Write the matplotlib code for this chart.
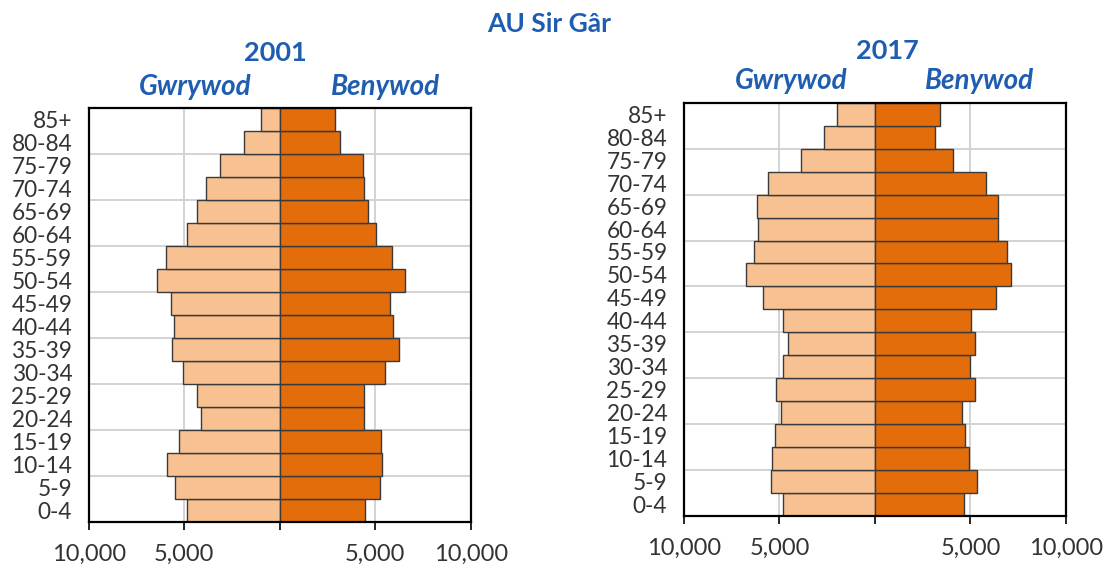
import matplotlib
matplotlib.use('Agg')
import matplotlib.pyplot as plt
from matplotlib.ticker import FuncFormatter, FixedLocator

plt.rcParams['font.family'] = ['Lato', 'DejaVu Sans']

# age groups, bottom to top
age_groups = ['0-4', '5-9', '10-14', '15-19', '20-24', '25-29', '30-34', '35-39',
              '40-44', '45-49', '50-54', '55-59', '60-64', '65-69', '70-74',
              '75-79', '80-84', '85+']

male_2001 = [4880, 5470, 5890, 5280, 4150, 4340, 5070, 5660, 5540, 5680,
             6410, 5940, 4880, 4340, 3870, 3140, 1860, 990]
female_2001 = [4490, 5230, 5350, 5300, 4420, 4420, 5490, 6240, 5940, 5770,
               6570, 5890, 5020, 4630, 4420, 4370, 3150, 2890]

# 2017
male_2017 = [4840, 5470, 5400, 5260, 4930, 5190, 4840, 4530, 4840, 5850,
             6740, 6320, 6130, 6200, 5590, 3850, 2660, 1980]
female_2017 = [4670, 5350, 4930, 4720, 4530, 5260, 5000, 5260, 5050, 6320,
               7120, 6930, 6460, 6460, 5800, 4060, 3130, 3390]

x_ticks = [-10000, -5000, 0, 5000, 10000]

BLUE = '#1F5DB0'
LIGHT = '#F8C191'
DARK = '#E36C0B'
EDGE = '#3A3A3A'


def draw_pyramid(ax, male, female):
    y = range(len(age_groups))
    ax.barh(y, [-m for m in male], height=1.0, color=LIGHT, edgecolor=EDGE,
            linewidth=1.0, zorder=2)
    ax.barh(y, female, height=1.0, color=DARK, edgecolor=EDGE,
            linewidth=1.0, zorder=2)
    ax.set_xlim(-10000, 10000)
    ax.set_ylim(-0.5, len(age_groups) - 0.5)

    ax.set_xticks(x_ticks)
    ax.xaxis.set_major_formatter(
        FuncFormatter(lambda v, p: '' if v == 0 else f'{abs(int(v)):,}'))
    ax.set_yticks(list(y))
    ax.set_yticklabels(age_groups)
    ax.yaxis.set_minor_locator(FixedLocator([i + 1.5 for i in range(0, 16, 2)]))

    ax.tick_params(axis='y', which='both', length=0, pad=12,
                   labelsize=16.3, labelcolor='#333333')
    ax.tick_params(axis='x', length=6, width=1.2, pad=10,
                   labelsize=17, labelcolor='#333333')

    ax.set_axisbelow(True)
    ax.xaxis.grid(True, color='#D0D0D0', linewidth=1.3)
    ax.yaxis.grid(True, which='minor', color='#D0D0D0', linewidth=1.3)
    ax.yaxis.grid(False, which='major')
    for s in ax.spines.values():
        s.set_linewidth(1.6)
        s.set_color('black')


fig = plt.figure(figsize=(11.05, 5.68), dpi=100)
ax1 = fig.add_axes([0.0805, 0.081, 0.3454, 0.7289])
ax2 = fig.add_axes([0.619, 0.0915, 0.3457, 0.7276])

draw_pyramid(ax1, male_2001, female_2001)
draw_pyramid(ax2, male_2017, female_2017)

W, H = 1105, 568


def label(x, y, s, **kw):
    fig.text(x / W, 1 - y / H, s, color=BLUE, ha='center', va='center', **kw)


label(549, 24, 'AU Sir Gâr', fontsize=19, fontweight='bold')
label(275, 53, '2001', fontsize=19.5, fontweight='bold')
label(195, 87, 'Gwrywod', fontsize=20, fontweight='bold', style='italic')
label(386, 87, 'Benywod', fontsize=20, fontweight='bold', style='italic')
label(887, 51, '2017', fontsize=19.5, fontweight='bold')
label(791, 81, 'Gwrywod', fontsize=20, fontweight='bold', style='italic')
label(980, 81, 'Benywod', fontsize=20, fontweight='bold', style='italic')

fig.savefig('out.png', dpi=100)
